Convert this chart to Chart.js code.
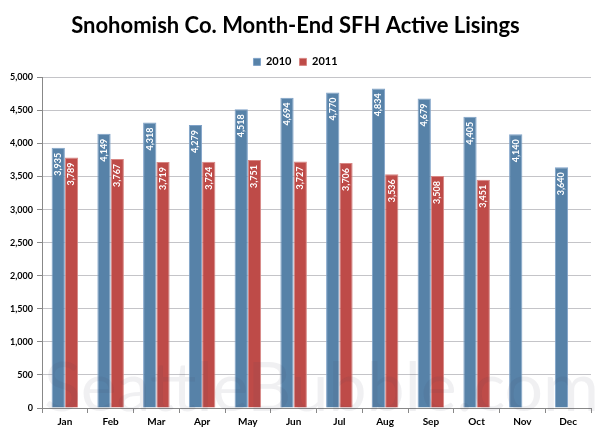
<!DOCTYPE html>
<html><head><meta charset="utf-8">
<script src="https://cdn.jsdelivr.net/npm/chart.js@4/dist/chart.umd.min.js"></script>
<style>html,body{margin:0;padding:0;background:#fff}#wrap{width:600px;height:436px}</style>
</head><body><div id="wrap"><canvas id="c" width="600" height="436"></canvas></div>
<script>
const months = ["Jan","Feb","Mar","Apr","May","Jun","Jul","Aug","Sep","Oct","Nov","Dec"];
const values2010 = [3935,4149,4318,4279,4518,4694,4770,4834,4679,4405,4140,3640];
const values2011 = [3789,3767,3719,3724,3751,3727,3706,3536,3508,3451,null,null];
const yTicks = [0,500,1000,1500,2000,2500,3000,3500,4000,4500,5000];

const FONT = "Lato, 'Open Sans', sans-serif";
const fmt = v => v.toLocaleString('en-US');

const labelPlugin = {
  id: 'barLabels',
  afterDatasetsDraw(chart) {
    const ctx = chart.ctx;
    ctx.save();
    ctx.font = "bold 9px " + FONT;
    ctx.fillStyle = "#ffffff";
    ctx.textAlign = "right";
    ctx.textBaseline = "middle";
    chart.data.datasets.forEach((ds, i) => {
      const meta = chart.getDatasetMeta(i);
      meta.data.forEach((bar, j) => {
        const v = ds.data[j];
        if (v == null) return;
        ctx.save();
        ctx.translate(bar.x, bar.y + 5);
        ctx.rotate(-Math.PI / 2);
        ctx.fillText(fmt(v), 0, 0);
        ctx.restore();
      });
    });
    ctx.restore();
  },
  afterDraw(chart) {
    const ctx = chart.ctx;
    const a = chart.chartArea;
    ctx.save();
    ctx.font = "68px " + FONT;
    ctx.fillStyle = "rgba(60,60,90,0.08)";
    ctx.textAlign = "center";
    ctx.textBaseline = "alphabetic";
    ctx.fillText("SeattleBubble.com", (a.left + a.right) / 2 + 5, a.bottom + 3);
    ctx.restore();
  }
};

new Chart(document.getElementById('c'), {
  type: 'bar',
  data: {
    labels: months,
    datasets: [
      { label: '2010', data: values2010, backgroundColor: '#5782A8', borderColor: '#7FA2C8', borderWidth: 1, categoryPercentage: 0.58, barPercentage: 1 },
      { label: '2011', data: values2011, backgroundColor: '#BE4B48', borderColor: '#D88784', borderWidth: 1, categoryPercentage: 0.58, barPercentage: 1 }
    ]
  },
  options: {
    responsive: false,
    animation: false,
    layout: { padding: { left: 0, right: 9, top: 0, bottom: 5 } },
    plugins: {
      title: { display: true, text: 'Snohomish Co. Month-End SFH Active Lisings', color: '#000', font: { family: FONT, size: 22, weight: 'bold' }, padding: { top: 13, bottom: 9 } },
      legend: { display: true, labels: { boxWidth: 7, boxHeight: 7, padding: 8, color: '#000', font: { family: FONT, size: 11, weight: 'bold' } } },
      tooltip: { enabled: false }
    },
    scales: {
      x: {
        grid: { display: true, drawOnChartArea: false, tickLength: 5, color: '#888' },
        border: { color: '#888' },
        ticks: { color: '#000', font: { family: FONT, size: 10, weight: 'bold' }, padding: 3 }
      },
      y: {
        min: 0, max: 5000,
        afterBuildTicks(s) { s.ticks = yTicks.map(v => ({ value: v })); },
        afterFit(s) { s.width = 42; },
        grid: { color: '#c4c4c8', tickLength: 5, tickColor: '#888' },
        border: { color: '#888' },
        ticks: { color: '#000', font: { family: FONT, size: 9, weight: 'bold' }, padding: 4, callback: v => fmt(v) }
      }
    }
  },
  plugins: [labelPlugin]
});
</script></body></html>
